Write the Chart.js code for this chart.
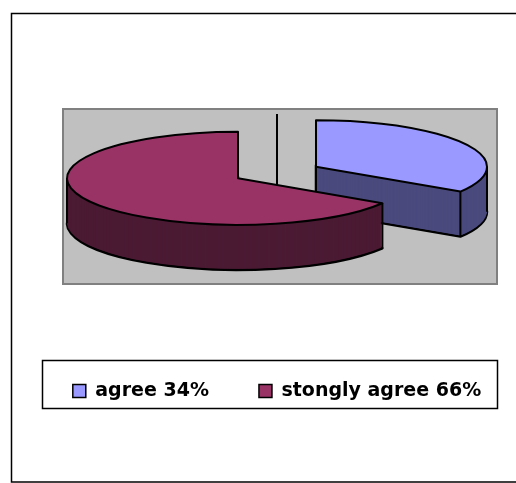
<!DOCTYPE html>
<html>
<head>
<meta charset="utf-8">
<script src="https://cdn.jsdelivr.net/npm/chart.js@4.4.1/dist/chart.umd.min.js"></script>
<style>
    html, body { margin: 0; padding: 0; background: #fff; }
</style>
</head>
<body>
<canvas id="myChart" width="516" height="483"></canvas>
<script>
// Datos del gráfico
const etiquetas = ['agree 34%', 'stongly agree 66%'];
const valores = [34, 66];

// Colores: cara superior y lados del pastel 3D
const coloresCara = ['#9999FF', '#993366'];
const coloresLado = ['#4A4A7E', '#4B1A33'];

const aplastar = 0.272;    // relación alto/ancho de la elipse
const profundidad = 45;    // grosor del pastel (px)
const separacion = 44.5;   // distancia de explosión de las porciones

const ctx = document.getElementById('myChart').getContext('2d');
let myChart;

// Centro del pastel: centrado con la leyenda, vertical en el área del gráfico
function centroPastel(chart) {
    const a = chart.chartArea;
    const l = chart.legend;
    return { cx: (l.left + l.right) / 2, cy: (a.top + a.bottom) / 2 };
}

// Construye la ruta aplastada de una porción, desplazada dy px hacia abajo
function rutaPorcion(c, arc, cy, dy) {
    c.save();
    c.translate(0, cy);
    c.scale(1, aplastar);
    c.translate(0, -cy);
    const y = arc.y + dy / aplastar;
    c.beginPath();
    c.moveTo(arc.x, y);
    c.arc(arc.x, y, arc.outerRadius, arc.startAngle, arc.endAngle);
    c.closePath();
    c.restore();
}

// Punto del borde de una porción en pantalla
function puntoBorde(arc, cy, ang) {
    return {
        x: arc.x + Math.cos(ang) * arc.outerRadius,
        y: cy + (arc.y + Math.sin(ang) * arc.outerRadius - cy) * aplastar
    };
}

const pastel3D = {
    id: 'pastel3D',
    beforeDraw(chart) {
        const c = chart.ctx;
        c.save();
        c.fillStyle = '#fff';
        c.fillRect(0, 0, chart.width, chart.height);
        // marco exterior
        c.strokeStyle = '#000';
        c.lineWidth = 1.5;
        c.strokeRect(11.5, 13.5, chart.width, 468.5);
        // área de trazado gris
        c.fillStyle = '#C0C0C0';
        c.fillRect(63, 109, 434, 175);
        c.strokeStyle = '#808080';
        c.lineWidth = 2;
        c.strokeRect(63, 109, 434, 175);
        // recuadro de la leyenda
        c.strokeStyle = '#000';
        c.lineWidth = 1.5;
        c.strokeRect(42.5, 360.5, 455, 48);
        c.restore();
    },
    beforeDatasetsDraw(chart) {
        const c = chart.ctx;
        const { cx, cy } = centroPastel(chart);
        const arcs = chart.getDatasetMeta(0).data;

        // separar las porciones desde el centro
        arcs.forEach(arc => {
            const medio = (arc.startAngle + arc.endAngle) / 2;
            arc.x = cx + Math.cos(medio) * separacion;
            arc.y = cy + Math.sin(medio) * separacion;
        });

        c.save();
        c.lineJoin = 'round';
        // línea vertical en el centro
        c.strokeStyle = '#000';
        c.lineWidth = 2;
        c.beginPath();
        c.moveTo(cx, 114);
        c.lineTo(cx, cy + 20);
        c.stroke();

        // lados de cada porción
        arcs.forEach((arc, i) => {
            c.fillStyle = coloresLado[i];
            c.strokeStyle = '#000';
            c.lineWidth = 2.5;
            rutaPorcion(c, arc, cy, profundidad);
            c.fill();
            c.stroke();
            for (let d = profundidad - 1; d >= 1; d--) {
                rutaPorcion(c, arc, cy, d);
                c.fill();
            }
            // aristas verticales visibles
            const angulos = [arc.startAngle, arc.endAngle];
            if (arc.startAngle <= 0 && arc.endAngle >= 0) angulos.push(0);
            if (arc.startAngle <= Math.PI && arc.endAngle >= Math.PI) angulos.push(Math.PI);
            const puntos = angulos
                .filter(a => Math.sin(a) > -0.2)
                .map(a => puntoBorde(arc, cy, a));
            puntos.push({ x: arc.x, y: cy + (arc.y - cy) * aplastar });
            c.lineWidth = 2;
            c.beginPath();
            puntos.forEach(p => {
                c.moveTo(p.x, p.y);
                c.lineTo(p.x, p.y + profundidad);
            });
            c.stroke();
        });
        c.restore();

        // aplastar la cara superior que dibuja Chart.js
        c.save();
        c.translate(0, cy);
        c.scale(1, aplastar);
        c.translate(0, -cy);
    },
    afterDatasetsDraw(chart) {
        const c = chart.ctx;
        c.restore();
        const { cy } = centroPastel(chart);
        c.save();
        c.strokeStyle = '#000';
        c.lineWidth = 2;
        c.lineJoin = 'round';
        chart.getDatasetMeta(0).data.forEach(arc => {
            rutaPorcion(c, arc, cy, 0);
            c.stroke();
        });
        c.restore();
    }
};

myChart = new Chart(ctx, {
    type: 'pie',
    data: {
        labels: etiquetas,
        datasets: [{
            data: valores,
            backgroundColor: coloresCara,
            borderWidth: 0,
            clip: false
        }]
    },
    options: {
        responsive: false,
        animation: false,
        events: [],
        radius: 171,
        layout: {
            padding: { top: 13.5, bottom: 72.5, left: 0, right: -38 }
        },
        plugins: {
            legend: {
                display: true,
                position: 'bottom',
                labels: {
                    color: '#000',
                    boxWidth: 13,
                    boxHeight: 13,
                    padding: 50,
                    font: {
                        family: 'DejaVu Sans',
                        size: 19,
                        weight: 'bold'
                    },
                    generateLabels: function(chart) {
                        const base = Chart.overrides.pie.plugins.legend.labels.generateLabels(chart);
                        return base.map(item => Object.assign(item, {
                            strokeStyle: '#000',
                            lineWidth: 1.5
                        }));
                    }
                }
            },
            tooltip: { enabled: false },
            title: { display: false }
        }
    },
    plugins: [pastel3D]
});
</script>
</body>
</html>
